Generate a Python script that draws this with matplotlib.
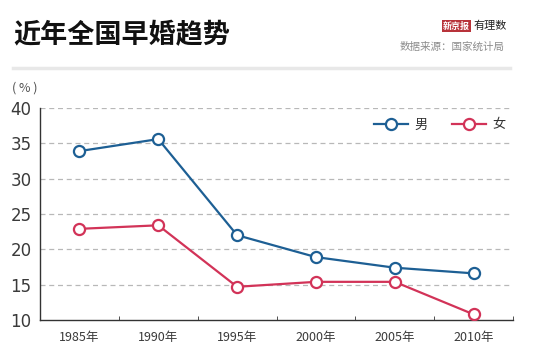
import matplotlib
matplotlib.use("Agg")
import matplotlib.pyplot as plt
from matplotlib.lines import Line2D

plt.rcParams['font.family'] = ['Noto Sans CJK SC', 'DejaVu Sans']

years = ["1985年", "1990年", "1995年", "2000年", "2005年", "2010年"]
male = [33.9, 35.6, 22.0, 18.9, 17.4, 16.6]
female = [22.9, 23.4, 14.7, 15.4, 15.4, 10.8]
yticks = [10, 15, 20, 25, 30, 35, 40]

W, H = 554, 355
fig = plt.figure(figsize=(W/100, H/100), dpi=100)
fig.patch.set_facecolor('white')

ax = fig.add_axes([40/W, 35/H, (513-40)/W, (320-108)/H])
x = list(range(len(years)))
blue = '#1d5f94'
red = '#d23358'
ax.plot(x, male, color=blue, lw=1.6, marker='o', ms=8, mfc='white', mec=blue, mew=1.6, zorder=3, label='男')
ax.plot(x, female, color=red, lw=1.6, marker='o', ms=8, mfc='white', mec=red, mew=1.6, zorder=3, label='女')

ax.set_xlim(-0.5, 5.5)
ax.set_ylim(10, 40)
ax.set_yticks(yticks)
ax.set_yticklabels([str(v) for v in yticks], fontsize=12, color='#3a3a3a', family='DejaVu Sans')
for v in yticks[1:]:
    ax.axhline(v, color='#b8b8b8', lw=0.9, ls=(0, (4, 3)), zorder=1)
ax.set_xticks(x)
ax.set_xticklabels(years, fontsize=9, color='#3a3a3a')
ax.tick_params(axis='x', length=0, pad=8)
ax.tick_params(axis='y', length=0, pad=6)
ax.set_xticks([i - 0.5 for i in range(len(years) + 1)], minor=True)
ax.tick_params(axis='x', which='minor', direction='in', length=3, color='#333333')
for s in ['top', 'right']:
    ax.spines[s].set_visible(False)
ax.spines['left'].set_color('#333333')
ax.spines['bottom'].set_color('#333333')
ax.spines['left'].set_linewidth(1.0)
ax.spines['bottom'].set_linewidth(1.0)

h = [Line2D([0], [0], color=blue, lw=1.6, marker='o', ms=8, mfc='white', mec=blue, mew=1.6),
     Line2D([0], [0], color=red, lw=1.6, marker='o', ms=8, mfc='white', mec=red, mew=1.6)]
leg = ax.legend(h, ['男', '女'], ncol=2, frameon=False, loc='center', bbox_to_anchor=((440-40)/(513-40), (212-(125-108))/212),
                fontsize=9.5, handlelength=2.6, columnspacing=1.8, handletextpad=0.5)
for t in leg.get_texts():
    t.set_color('#333333')

fig.text(13/W, 1 - 35/H, '近年全国早婚趋势', fontsize=19.5, fontweight='bold', va='center', ha='left', color='#111111')
fig.text(505/W, 1 - 47/H, '数据来源：国家统计局', fontsize=7.6, va='center', ha='right', color='#8c8c8c')
fig.text(470/W, 1 - 26/H, '新京报', fontsize=6.5, fontweight='bold', va='center', ha='right', color='white',
         bbox=dict(boxstyle='square,pad=0.15', fc='#b8333a', ec='none'))
fig.text(473/W, 1 - 26/H, '有理数', fontsize=8, style='italic', va='center', ha='left', color='#222222')
fig.add_artist(Line2D([13/W, 510/W], [1 - 68/H, 1 - 68/H], color='#e8e8e8', lw=2.5, transform=fig.transFigure))
fig.text(12/W, 1 - 88/H, '( % )', fontsize=9, va='center', ha='left', color='#555555')

fig.savefig('out.png', dpi=100, facecolor='white')
